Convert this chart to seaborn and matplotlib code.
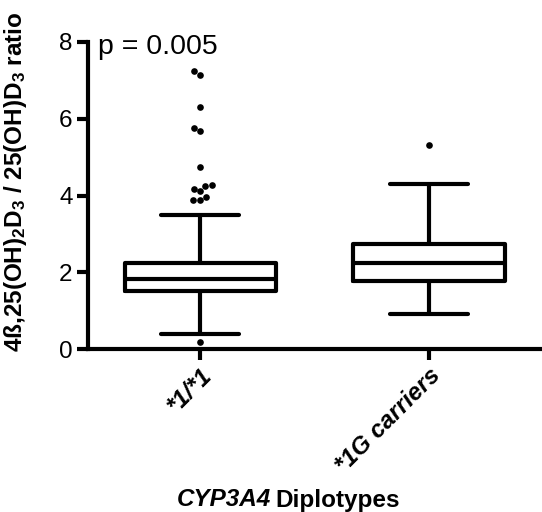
import numpy as np
import pandas as pd
import matplotlib
matplotlib.use("Agg")
import matplotlib.pyplot as plt
import seaborn as sns

# ---- data ----
categories = ["*1/*1", "*1G carriers"]
q1 = [1.51, 1.78]
median = [1.82, 2.24]
q3 = [2.24, 2.73]
whisker_low = [0.40, 0.91]
whisker_high = [3.49, 4.29]
outliers_11 = [7.24, 7.15, 6.31, 5.76, 5.69, 4.74, 4.27, 4.24, 4.17, 4.11,
               3.97, 3.87, 3.87, 0.19]
outliers_1g = [5.31]
y_ticks = [0, 2, 4, 6, 8]
p_text = "p = 0.005"

sns.set_theme(style="ticks")
plt.rcParams['font.family'] = ['Liberation Sans', 'DejaVu Sans']
plt.rcParams['mathtext.fontset'] = 'custom'
plt.rcParams['mathtext.rm'] = 'Liberation Sans:bold'
plt.rcParams['mathtext.bf'] = 'Liberation Sans:bold'
plt.rcParams['mathtext.it'] = 'Liberation Sans:italic'
for key in ['text.color', 'axes.labelcolor', 'xtick.color', 'ytick.color',
            'axes.edgecolor']:
    plt.rcParams[key] = 'black'

fig = plt.figure(figsize=(5.42, 5.12), dpi=100)
ax = fig.add_axes([88/542, 1-349/512, (540-88)/542, (349-42)/512])

lw = 3.0
stats = []
for i, c in enumerate(categories):
    stats.append(dict(label=c, q1=q1[i], med=median[i], q3=q3[i],
                      whislo=whisker_low[i], whishi=whisker_high[i], fliers=[]))
ax.bxp(stats, positions=range(len(categories)), widths=0.66, showfliers=False,
       boxprops=dict(color="black", linewidth=lw),
       medianprops=dict(color="black", linewidth=lw),
       whiskerprops=dict(color="black", linewidth=lw),
       capprops=dict(color="black", linewidth=lw),
       capwidths=0.34, manage_ticks=False)

df = pd.DataFrame({
    "group": [categories[0]] * len(outliers_11) + [categories[1]] * len(outliers_1g),
    "value": outliers_11 + outliers_1g,
})
sns.swarmplot(data=df, x="group", y="value", order=categories, color="black",
              size=4.8, ax=ax)

ax.set_xlim(-0.49, 1.485)
ax.set_ylim(0, 8)
ax.set_yticks(y_ticks)
ax.set_yticklabels([str(t) for t in y_ticks], fontsize=17.5)
ax.set_xticks(range(len(categories)))
ax.set_xticklabels(categories, rotation=45, ha="right", rotation_mode="anchor",
                   fontsize=17.5, fontweight="bold", fontstyle="italic")
for side in ["top", "right"]:
    ax.spines[side].set_visible(False)
for side in ["left", "bottom"]:
    ax.spines[side].set_linewidth(3)
    ax.spines[side].set_color("black")
ax.tick_params(axis="both", length=8, width=3, color="black", labelcolor="black", pad=3)
ax.set_xlabel("")
ax.set_ylabel(r"4ß,25(OH)$_\mathbf{2}$D$_\mathbf{3}$ / 25(OH)D$_\mathbf{3}$ ratio",
              fontsize=17.5, fontweight="bold", color="black")
ax.yaxis.set_label_coords(-0.13, 0.545)

ax.text(-0.445, 7.88, p_text, fontsize=20.5, ha="left", va="center", color="black")

fig.text(271/542, 1-500/512, "CYP3A4", fontsize=17.5, fontweight="bold",
         fontstyle="italic", ha="right", va="center", color="black")
fig.text(275/542, 1-500/512, "Diplotypes", fontsize=17.5, fontweight="bold",
         ha="left", va="center", color="black")

fig.savefig("out.png", dpi=100)
